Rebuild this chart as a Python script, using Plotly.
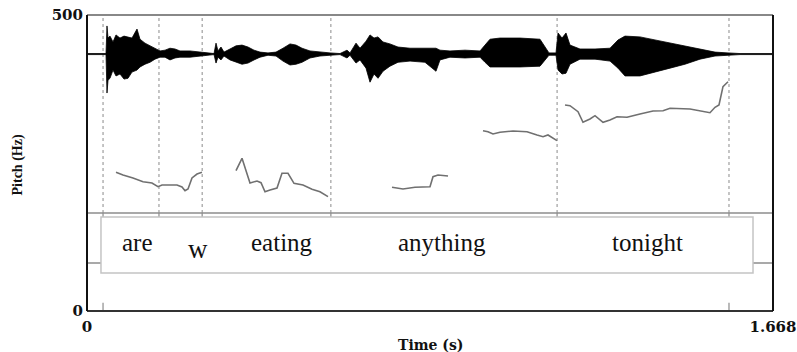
import plotly.graph_objects as go

# ---------------- data ----------------
t_max = 1.668
pitch_min, pitch_max = 0, 500

# TextGrid interval boundaries (s)
boundaries = [0.039, 0.175, 0.280, 0.593, 1.143, 1.561]
words = ["are", "w", "eating", "anything", "tonight"]
word_t = [0.123, 0.270, 0.473, 0.863, 1.364]
word_hz = [116, 104, 116, 116, 116]

# Pitch contour segments (time s, Hz)
seg1_t = [0.0705, 0.0875, 0.1118, 0.1362, 0.1580, 0.1726, 0.1824, 0.2188, 0.2310,
          0.2383, 0.2456, 0.2553, 0.2675, 0.2796]
seg1_hz = [234.3, 229.7, 224.7, 218.4, 216.2, 210.0, 212.8, 212.8, 209.5,
           203.2, 206.1, 224.7, 231.4, 234.3]
seg2_t = [0.3623, 0.3769, 0.3963, 0.4134, 0.4231, 0.4328, 0.4450, 0.4620, 0.4741,
          0.4887, 0.5033, 0.5252, 0.5471, 0.5665, 0.5860]
seg2_hz = [237.0, 257.9, 216.2, 219.6, 216.7, 201.5, 204.4, 207.8, 232.6,
           232.6, 215.7, 212.8, 205.6, 201.5, 193.1]
seg3_t = [0.7416, 0.7683, 0.7975, 0.8340, 0.8413, 0.8535, 0.8778]
seg3_hz = [209.0, 206.1, 209.0, 210.0, 226.9, 229.7, 228.0]
seg4_t = [0.9629, 0.9750, 0.9872, 1.0042, 1.0358, 1.0699, 1.0942, 1.1088, 1.1209, 1.1428]
seg4_hz = [304.6, 302.9, 299.0, 301.9, 304.1, 302.9, 297.3, 294.4, 297.3, 287.7]
seg5_t = [1.1623, 1.1744, 1.1939, 1.2060, 1.2230, 1.2352, 1.2547, 1.2717, 1.2887,
          1.3130, 1.3446, 1.3762, 1.4006, 1.4176, 1.4662, 1.5148, 1.5270, 1.5367,
          1.5464, 1.5586]
seg5_hz = [348.0, 346.8, 336.7, 318.8, 324.3, 329.9, 318.8, 322.6, 328.2,
           327.2, 332.8, 337.8, 338.3, 342.4, 341.2, 335.0, 344.1, 348.0,
           378.9, 387.3]

# Waveform envelope (time s, relative amplitude)
env_t = [0.0, 0.0462, 0.0486, 0.0511, 0.0559, 0.0632, 0.0705, 0.0802, 0.0900, 0.0997,
         0.1094, 0.1216, 0.1289, 0.1410, 0.1532, 0.1653, 0.1775, 0.1897, 0.2018, 0.2140,
         0.2261, 0.2504, 0.2748, 0.2942, 0.3088, 0.3137, 0.3185, 0.3258, 0.3331, 0.3477,
         0.3623, 0.3769, 0.3915, 0.4061, 0.4207, 0.4401, 0.4596, 0.4766, 0.4936, 0.5082,
         0.5228, 0.5422, 0.5665, 0.5909, 0.6152, 0.6322, 0.6395, 0.6541, 0.6638, 0.6784,
         0.6881, 0.6979, 0.7076, 0.7197, 0.7367, 0.7562, 0.7854, 0.8218, 0.8486, 0.8583,
         0.8826, 0.9191, 0.9556, 0.9677, 0.9799, 1.0042, 1.0528, 1.1015, 1.1136, 1.1233,
         1.1404, 1.1453, 1.1550, 1.1647, 1.1744, 1.1987, 1.2352, 1.2717, 1.2911, 1.3081,
         1.3446, 1.3811, 1.4176, 1.4540, 1.4905, 1.5270, 1.5586, 1.5878, 1.668]
env_upper = [0.013, 0.013, 0.72, 0.41, 0.46, 0.31, 0.49, 0.41, 0.46, 0.44,
             0.41, 0.64, 0.38, 0.28, 0.21, 0.13, 0.08, 0.10, 0.15, 0.13,
             0.08, 0.08, 0.05, 0.03, 0.013, 0.28, 0.08, 0.18, 0.05, 0.13,
             0.21, 0.23, 0.18, 0.10, 0.05, 0.03, 0.05, 0.15, 0.26, 0.23,
             0.15, 0.08, 0.05, 0.03, 0.013, 0.10, 0.03, 0.28, 0.15, 0.33,
             0.49, 0.41, 0.44, 0.31, 0.26, 0.18, 0.15, 0.15, 0.15, 0.10,
             0.08, 0.10, 0.08, 0.23, 0.38, 0.41, 0.41, 0.38, 0.18, 0.03,
             0.03, 0.54, 0.41, 0.54, 0.23, 0.13, 0.13, 0.15, 0.36, 0.46,
             0.44, 0.36, 0.28, 0.21, 0.13, 0.05, 0.03, 0.013, 0.013]
env_lower = [-0.013, -0.013, -1.00, -0.67, -0.62, -0.41, -0.56, -0.51, -0.64, -0.62,
             -0.46, -0.41, -0.33, -0.26, -0.21, -0.13, -0.08, -0.08, -0.15, -0.10,
             -0.08, -0.08, -0.05, -0.03, -0.013, -0.23, -0.08, -0.15, -0.05, -0.15,
             -0.21, -0.26, -0.23, -0.15, -0.08, -0.03, -0.05, -0.18, -0.28, -0.26,
             -0.21, -0.10, -0.05, -0.03, -0.013, -0.10, -0.03, -0.23, -0.15, -0.36,
             -0.72, -0.51, -0.62, -0.44, -0.31, -0.21, -0.18, -0.21, -0.44, -0.15,
             -0.08, -0.10, -0.08, -0.21, -0.33, -0.33, -0.33, -0.31, -0.15, -0.03,
             -0.03, -0.41, -0.51, -0.49, -0.26, -0.13, -0.13, -0.18, -0.36, -0.56,
             -0.56, -0.46, -0.36, -0.26, -0.13, -0.05, -0.03, -0.013, -0.013]

x_ticks = [0, t_max]
x_ticktext = ["0", "1.668"]
y_ticks = [0, 500]
y_ticktext = ["0", "500"]

# ---------------- figure ----------------
fig = go.Figure()

fig.add_trace(go.Scatter(
    x=env_t + env_t[::-1], y=env_upper + env_lower[::-1],
    mode="lines", fill="toself", fillcolor="black",
    line=dict(color="black", width=0.8), yaxis="y2", hoverinfo="skip"))

pitch_color = "#707070"
for st, sh in [(seg1_t, seg1_hz), (seg2_t, seg2_hz), (seg3_t, seg3_hz),
               (seg4_t, seg4_hz), (seg5_t, seg5_hz)]:
    fig.add_trace(go.Scatter(x=st, y=sh, mode="lines",
                             line=dict(color=pitch_color, width=1.6)))

tier_top_hz = 165.5
tier_bot_hz = 81.0
box_x0, box_x1 = 0.034, 1.6194
box_y0, box_y1 = 64.2, 158.8

shapes = []
# dotted boundary lines
for b in boundaries:
    shapes.append(dict(type="line", xref="x", yref="y", x0=b, x1=b, y0=tier_top_hz, y1=500,
                       line=dict(color="#8a8a8a", width=1, dash="dot"), layer="below"))
# tier lines
for yy in [tier_top_hz, tier_bot_hz]:
    shapes.append(dict(type="line", xref="paper", yref="y", x0=0, x1=1, y0=yy, y1=yy,
                       line=dict(color="#8c8c8c", width=1.5), layer="above"))
# boundary ticks on tier
for b in boundaries:
    shapes.append(dict(type="line", xref="x", yref="y", x0=b, x1=b, y0=153, y1=tier_top_hz,
                       line=dict(color="#8c8c8c", width=1.2), layer="above"))
# bottom ticks
for b in [boundaries[0], boundaries[-1]]:
    shapes.append(dict(type="line", xref="x", yref="y", x0=b, x1=b, y0=0, y1=14,
                       line=dict(color="#8c8c8c", width=1.2), layer="above"))
# text box
shapes.append(dict(type="rect", xref="x", yref="y", x0=box_x0, x1=box_x1, y0=box_y0, y1=box_y1,
                   fillcolor="white", line=dict(color="#c4c4c4", width=1.5), layer="above"))
# frame
shapes.append(dict(type="line", xref="paper", yref="paper", x0=0, x1=1, y0=1, y1=1,
                   line=dict(color="#888888", width=2), layer="above"))
shapes.append(dict(type="line", xref="paper", yref="paper", x0=0, x1=1, y0=0, y1=0,
                   line=dict(color="#333333", width=2), layer="above"))
shapes.append(dict(type="line", xref="paper", yref="paper", x0=0, x1=0, y0=0, y1=1,
                   line=dict(color="#111111", width=2), layer="above"))
shapes.append(dict(type="line", xref="paper", yref="paper", x0=1, x1=1, y0=0, y1=1,
                   line=dict(color="#111111", width=2), layer="above"))

annotations = []
for w, wt, wh in zip(words, word_t, word_hz):
    annotations.append(dict(x=wt, y=wh, xref="x", yref="y", text=w, showarrow=False,
                            font=dict(family="Liberation Serif", size=27 if w == "w" else 25,
                                      color="#111111"),
                            xanchor="center", yanchor="middle"))
annotations.append(dict(x=0.5, y=-0.115, xref="paper", yref="paper", text="<b>Time (s)</b>",
                        showarrow=False, font=dict(family="DejaVu Serif", size=14, color="#111111"),
                        xanchor="center", yanchor="middle"))
annotations.append(dict(x=-0.1006, y=0.495, xref="paper", yref="paper", text="<b>Pitch (Hz)</b>",
                        showarrow=False, textangle=-90,
                        font=dict(family="Liberation Serif", size=14, color="#111111"),
                        xanchor="center", yanchor="middle"))

tickfont = dict(family="DejaVu Serif", size=15, color="#111111")
fig.update_layout(
    width=797, height=352,
    margin=dict(l=87, r=24, t=15, b=41, autoexpand=False),
    paper_bgcolor="white", plot_bgcolor="rgba(0,0,0,0)",
    showlegend=False,
    xaxis=dict(range=[0, t_max], tickvals=x_ticks, ticktext=["<b>%s</b>" % s for s in x_ticktext],
               showgrid=False, zeroline=False, showline=False, ticks="", tickfont=tickfont,
               automargin=False, ticklabelstandoff=5, fixedrange=True),
    yaxis=dict(range=[pitch_min, pitch_max], tickvals=y_ticks,
               ticktext=["<b>%s</b>" % s for s in y_ticktext],
               showgrid=False, zeroline=False, showline=False, ticks="", tickfont=tickfont,
               automargin=False, ticklabelstandoff=3, fixedrange=True),
    yaxis2=dict(domain=[0.736, 1.0], range=[-1, 1], visible=False, anchor="x"),
    shapes=shapes,
    annotations=annotations,
)

fig.write_html("out.html")
